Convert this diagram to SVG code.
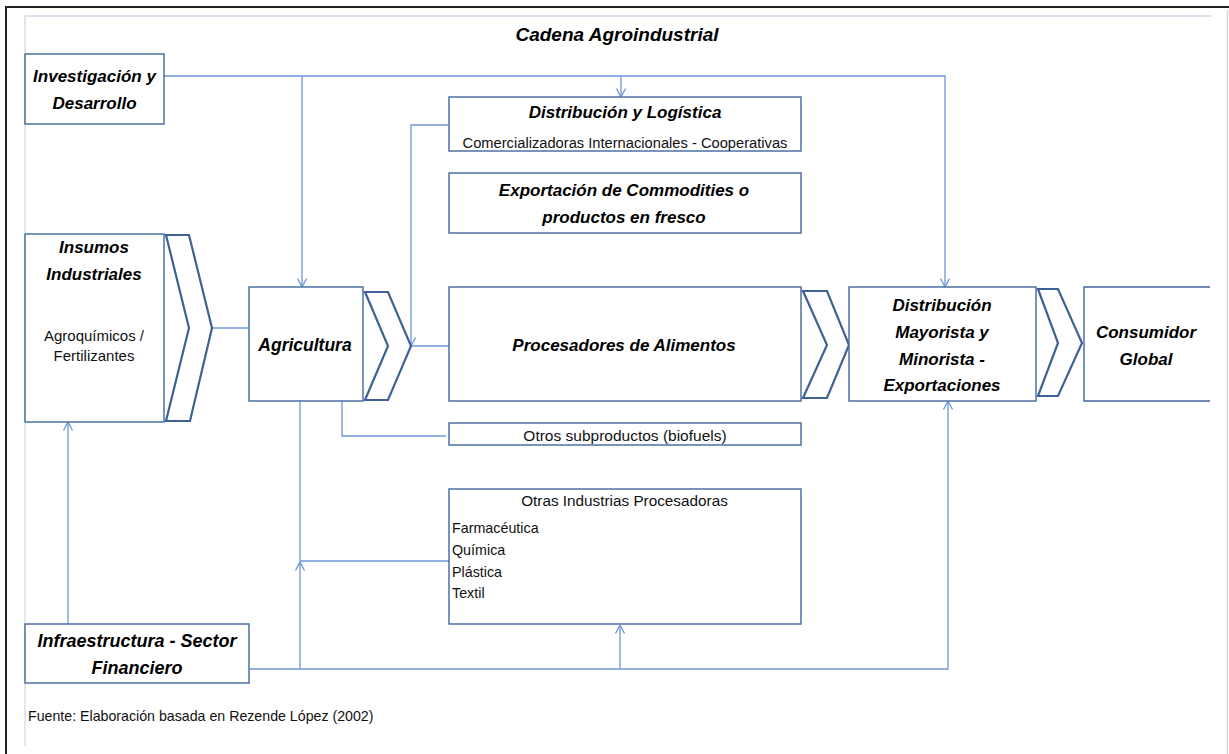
<svg xmlns="http://www.w3.org/2000/svg" width="1229" height="754" viewBox="0 0 1229 754">
<defs>
<marker id="arr" viewBox="0 0 10 10" refX="9.5" refY="5" markerWidth="10" markerHeight="10" markerUnits="userSpaceOnUse" orient="auto">
<path d="M1,0.5 L9.5,5 L1,9.5" fill="none" stroke="#6d98d6" stroke-width="1.3"/>
</marker>
<style>
.box{fill:#fff;stroke:#41679e;stroke-width:1.4}
.chev{fill:#fff;stroke:#3e6296;stroke-width:2.2;stroke-linejoin:miter}
.con{fill:none;stroke:#6d98d6;stroke-width:1.3}
.t{font-family:"Liberation Sans",Arial,sans-serif;font-weight:bold;font-style:italic;font-size:17px;fill:#000;text-anchor:middle}
.r{font-family:"Liberation Sans",Arial,sans-serif;font-size:15px;fill:#111;text-anchor:middle}
.l{text-anchor:start}
</style>
</defs>
<rect width="1229" height="754" fill="#fff"/>
<g id="frame">
<path d="M6,754 V7 H1229" fill="none" stroke="#222" stroke-width="2"/>
<path d="M1227.5,10 V754" fill="none" stroke="#d6d6d6" stroke-width="1.5"/>
<path d="M25,746 V16 H1211" fill="none" stroke="#d5d8ea" stroke-width="1.3"/>
</g>
<text id="title" class="t" x="617" y="41" style="font-size:19px">Cadena Agroindustrial</text>
<g id="connectors">
<path class="con" d="M164,76 H945 V287" marker-end="url(#arr)"/>
<path class="con" d="M302,76 V287" marker-end="url(#arr)"/>
<path class="con" d="M621,76 V97" marker-end="url(#arr)"/>
<path class="con" d="M448,125 H411 V346" marker-end="url(#arr)"/>
<path class="con" d="M411,346 H451"/>
<path class="con" d="M212,328 H249"/>
<path class="con" d="M342,401 V436 H446"/>
<path class="con" d="M449,561 H300"/>
<path class="con" d="M300,401 V562"/>
<path class="con" d="M300,669 V562" marker-end="url(#arr)"/>
<path class="con" d="M249,669 H948 V401" marker-end="url(#arr)"/>
<path class="con" d="M620,669 V625" marker-end="url(#arr)"/>
<path class="con" d="M68,624 V422" marker-end="url(#arr)"/>
</g>
<g id="investigacion">
<rect class="box" x="25" y="54" width="139" height="70"/>
<text class="t" x="94.5" y="82">Investigación y</text>
<text class="t" x="94.5" y="109">Desarrollo</text>
</g>
<g id="insumos">
<rect class="box" x="25" y="234" width="139" height="188"/>
<text class="t" x="94" y="253">Insumos</text>
<text class="t" x="94" y="280">Industriales</text>
<text class="r" x="94" y="341">Agroquímicos /</text>
<text class="r" x="94" y="361">Fertilizantes</text>
<polygon class="chev" points="166,235 189,235 212,328 190,421 166,421 189,328"/>
</g>
<g id="agricultura">
<rect class="box" x="249" y="287" width="114" height="114"/>
<text class="t" x="305" y="351" style="font-size:17.5px">Agricultura</text>
<polygon class="chev" points="365,292 388,292 411,346 388,400 365,400 388,346"/>
</g>
<g id="distribucion-logistica">
<rect class="box" x="449" y="97" width="352" height="54"/>
<text class="t" x="625" y="118">Distribución y Logística</text>
<text class="r" x="625" y="148" style="font-size:14.7px">Comercializadoras Internacionales - Cooperativas</text>
</g>
<g id="exportacion">
<rect class="box" x="449" y="173" width="352" height="60"/>
<text class="t" x="624" y="196">Exportación de Commodities o</text>
<text class="t" x="624" y="223">productos en fresco</text>
</g>
<g id="procesadores">
<rect class="box" x="449" y="287" width="352" height="114"/>
<text class="t" x="624" y="351">Procesadores de Alimentos</text>
<polygon class="chev" points="803,291 827,291 849,345 827,398 803,398 827,345"/>
</g>
<g id="subproductos">
<rect class="box" x="449" y="423" width="352" height="22"/>
<text class="r" x="625" y="441" style="font-size:15.5px">Otros subproductos (biofuels)</text>
</g>
<g id="otras-industrias">
<rect class="box" x="449" y="489" width="352" height="135"/>
<text class="r" x="624.5" y="506" style="font-size:15.3px">Otras Industrias Procesadoras</text>
<text class="r l" x="452" y="533" style="font-size:14.3px">Farmacéutica</text>
<text class="r l" x="452" y="555" style="font-size:14.3px">Química</text>
<text class="r l" x="452" y="576.5" style="font-size:14.3px">Plástica</text>
<text class="r l" x="452" y="598" style="font-size:14.3px">Textil</text>
</g>
<g id="distribucion-mayorista">
<rect class="box" x="849" y="287" width="187" height="114"/>
<text class="t" x="942" y="311">Distribución</text>
<text class="t" x="942" y="338">Mayorista y</text>
<text class="t" x="942" y="364.5">Minorista -</text>
<text class="t" x="942" y="391">Exportaciones</text>
<polygon class="chev" points="1038,289 1058,289 1082,343 1058,396 1038,396 1058,343"/>
</g>
<g id="consumidor">
<path class="box" d="M1210,287 H1084 V401 H1210" fill="none"/>
<text class="t" x="1146" y="338">Consumidor</text>
<text class="t" x="1146" y="364.5">Global</text>
</g>
<g id="infraestructura">
<rect class="box" x="25" y="624" width="224" height="59"/>
<text class="t" x="137" y="647" style="font-size:18px">Infraestructura - Sector</text>
<text class="t" x="137" y="673.5" style="font-size:18px">Financiero</text>
</g>
<text id="fuente" class="r l" x="28" y="721" style="font-size:14.2px">Fuente: Elaboración basada en Rezende López (2002)</text>
</svg>
